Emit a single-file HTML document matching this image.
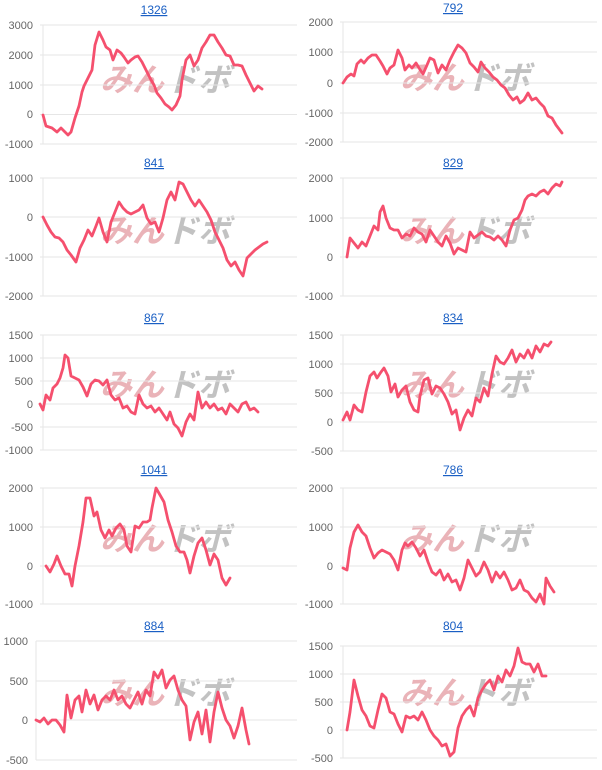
<!DOCTYPE html>
<html><head><meta charset="utf-8"><style>
html,body{margin:0;padding:0;background:#fff;}
svg{display:block;}
.t{font-family:"Liberation Sans",sans-serif;font-size:12px;fill:#1a5fc4;text-decoration:underline;text-anchor:middle;}
.l{font-family:"Liberation Sans",sans-serif;font-size:11px;fill:#666;text-anchor:end;}
.g{stroke:#e6e6e6;stroke-width:1;}
.s{fill:none;stroke:#f5506e;stroke-width:2.8;stroke-linejoin:round;stroke-linecap:round;}
.wm1{font-family:"Liberation Sans","Noto Sans CJK JP",sans-serif;font-weight:bold;font-style:italic;font-size:32px;fill:#eab3b8;}
.wm2{font-family:"Liberation Sans","Noto Sans CJK JP",sans-serif;font-weight:bold;font-style:italic;font-size:32px;fill:#c2c2c2;}
</style></head><body>
<svg width="602" height="770" xmlns="http://www.w3.org/2000/svg">
<g>
<text x="100" y="91" class="wm1">みん</text><text x="166" y="91" class="wm2">ドボ</text>
<text x="400" y="89" class="wm1">みん</text><text x="466" y="89" class="wm2">ドボ</text>
<text x="100" y="242" class="wm1">みん</text><text x="166" y="242" class="wm2">ドボ</text>
<text x="400" y="242" class="wm1">みん</text><text x="466" y="242" class="wm2">ドボ</text>
<text x="100" y="396" class="wm1">みん</text><text x="166" y="396" class="wm2">ドボ</text>
<text x="400" y="396" class="wm1">みん</text><text x="466" y="396" class="wm2">ドボ</text>
<text x="100" y="550" class="wm1">みん</text><text x="166" y="550" class="wm2">ドボ</text>
<text x="400" y="550" class="wm1">みん</text><text x="466" y="550" class="wm2">ドボ</text>
<text x="100" y="704" class="wm1">みん</text><text x="166" y="704" class="wm2">ドボ</text>
<text x="400" y="704" class="wm1">みん</text><text x="466" y="704" class="wm2">ドボ</text>
</g>

<text x="154" y="14" class="t">1326</text>
<line class="g" x1="40" x2="297" y1="25" y2="25"/><line class="g" x1="40" x2="297" y1="55" y2="55"/><line class="g" x1="40" x2="297" y1="85" y2="85"/><line class="g" x1="40" x2="297" y1="114.5" y2="114.5"/><line class="g" x1="40" x2="297" y1="144" y2="144"/>
<line class="g" x1="43" x2="43" y1="25" y2="144"/>
<text x="33" y="29" class="l">3000</text><text x="33" y="59" class="l">2000</text><text x="33" y="89" class="l">1000</text><text x="33" y="118" class="l">0</text><text x="33" y="148" class="l">-1000</text>
<polyline class="s" points="43,115 46,126 52,128 57,132 61,128 65,132 68,135 71,132 75,118 79,106 82,92 84,86 88,78 92,70 95,45 99,32 103,40 106,47 110,50 113,60 117,50 121,53 124,57 128,63 131,60 135,57 138,56 142,62 146,70 150,78 154,85 157,93 161,98 165,104 169,107 172,110 176,105 180,96 182,80 186,60 190,55 194,66 198,60 202,48 206,42 210,35 214,35 218,42 222,48 226,55 230,56 234,65 238,65 242,66 246,75 250,83 254,91 258,86 262,89"/>

<text x="453" y="12" class="t">792</text>
<line class="g" x1="340" x2="597" y1="22" y2="22"/><line class="g" x1="340" x2="597" y1="52" y2="52"/><line class="g" x1="340" x2="597" y1="83" y2="83"/><line class="g" x1="340" x2="597" y1="113" y2="113"/><line class="g" x1="340" x2="597" y1="142" y2="142"/>
<line class="g" x1="343" x2="343" y1="22" y2="142"/>
<text x="333" y="26" class="l">2000</text><text x="333" y="56" class="l">1000</text><text x="333" y="87" class="l">0</text><text x="333" y="117" class="l">-1000</text><text x="333" y="146" class="l">-2000</text>
<polyline class="s" points="343,83 347,77 351,74 354,76 357,64 361,60 364,63 368,58 372,55 376,55 380,61 383,66 387,74 390,68 394,65 398,50 402,58 405,70 409,65 412,68 416,63 419,68 423,74 427,65 430,58 434,60 438,73 442,65 446,70 450,60 454,52 458,45 462,48 466,53 470,63 474,67 478,72 481,62 485,68 489,72 493,77 497,80 501,85 505,88 509,95 513,100 517,97 520,103 524,100 528,93 532,100 536,98 540,103 544,107 548,116 552,118 556,125 562,133"/>

<text x="154" y="167" class="t">841</text>
<line class="g" x1="40" x2="297" y1="178" y2="178"/><line class="g" x1="40" x2="297" y1="217" y2="217"/><line class="g" x1="40" x2="297" y1="257" y2="257"/><line class="g" x1="40" x2="297" y1="296" y2="296"/>
<line class="g" x1="43" x2="43" y1="178" y2="296"/>
<text x="33" y="182" class="l">1000</text><text x="33" y="221" class="l">0</text><text x="33" y="261" class="l">-1000</text><text x="33" y="300" class="l">-2000</text>
<polyline class="s" points="43,217 47,225 51,232 55,237 59,238 63,242 67,250 71,255 76,262 80,248 84,240 88,230 92,236 96,226 99,218 103,232 107,242 111,222 115,212 119,202 123,208 127,212 131,214 135,212 139,210 143,205 147,218 151,224 155,222 159,232 163,218 167,200 171,192 175,200 179,182 183,184 187,192 191,200 195,206 199,200 203,206 207,212 211,220 215,232 219,240 223,248 227,260 231,266 235,262 239,270 243,276 247,258 251,254 255,250 259,247 263,244 267,242"/>

<text x="453" y="167" class="t">829</text>
<line class="g" x1="340" x2="597" y1="178" y2="178"/><line class="g" x1="340" x2="597" y1="218" y2="218"/><line class="g" x1="340" x2="597" y1="257" y2="257"/><line class="g" x1="340" x2="597" y1="296" y2="296"/>
<line class="g" x1="343" x2="343" y1="178" y2="296"/>
<text x="333" y="182" class="l">2000</text><text x="333" y="222" class="l">1000</text><text x="333" y="261" class="l">0</text><text x="333" y="300" class="l">-1000</text>
<polyline class="s" points="347,257 350,238 354,243 358,248 362,242 366,246 370,236 374,226 378,230 380,212 383,206 386,218 390,228 394,230 398,230 402,238 406,234 410,236 414,228 418,232 422,234 426,242 430,230 434,236 438,242 442,246 446,236 450,243 454,254 458,248 462,250 466,252 470,232 474,238 478,235 482,232 486,236 490,237 494,240 498,236 502,240 506,246 510,230 514,220 518,218 522,210 525,200 528,196 532,194 536,196 540,192 544,190 548,194 552,188 556,184 560,186 562,182"/>

<text x="154" y="322" class="t">867</text>
<line class="g" x1="40" x2="297" y1="335" y2="335"/><line class="g" x1="40" x2="297" y1="358" y2="358"/><line class="g" x1="40" x2="297" y1="381" y2="381"/><line class="g" x1="40" x2="297" y1="404" y2="404"/><line class="g" x1="40" x2="297" y1="427" y2="427"/><line class="g" x1="40" x2="297" y1="450" y2="450"/>
<line class="g" x1="43" x2="43" y1="335" y2="450"/>
<text x="33" y="339" class="l">1500</text><text x="33" y="362" class="l">1000</text><text x="33" y="385" class="l">500</text><text x="33" y="408" class="l">0</text><text x="33" y="431" class="l">-500</text><text x="33" y="454" class="l">-1000</text>
<polyline class="s" points="40,404 43,410 46,395 50,400 53,388 57,384 60,378 63,368 65,355 68,358 71,376 75,378 79,380 83,387 87,396 91,384 95,380 99,381 103,385 107,380 111,395 115,400 119,398 123,408 127,406 131,412 135,414 139,395 143,404 147,408 151,406 155,412 159,408 163,414 167,420 170,412 174,424 178,428 182,436 186,422 190,414 194,420 198,392 202,408 206,402 210,408 214,404 218,410 222,408 226,414 230,404 234,408 238,412 242,404 246,402 250,410 254,408 258,412"/>

<text x="453" y="322" class="t">834</text>
<line class="g" x1="340" x2="597" y1="335" y2="335"/><line class="g" x1="340" x2="597" y1="364" y2="364"/><line class="g" x1="340" x2="597" y1="393" y2="393"/><line class="g" x1="340" x2="597" y1="422" y2="422"/><line class="g" x1="340" x2="597" y1="451" y2="451"/>
<line class="g" x1="343" x2="343" y1="335" y2="451"/>
<text x="333" y="339" class="l">1500</text><text x="333" y="368" class="l">1000</text><text x="333" y="397" class="l">500</text><text x="333" y="426" class="l">0</text><text x="333" y="455" class="l">-500</text>
<polyline class="s" points="343,420 347,412 350,420 354,405 358,410 362,412 366,392 370,376 374,372 377,378 381,372 384,368 388,376 391,392 395,384 398,397 402,390 406,386 410,402 414,410 418,412 420,396 424,380 428,378 432,394 436,386 440,388 444,394 448,402 452,414 456,410 460,430 464,418 468,410 472,416 476,398 480,402 484,388 488,396 492,374 496,356 500,362 504,364 508,358 512,350 516,362 520,354 524,358 528,350 532,358 536,346 540,352 544,344 548,346 551,342"/>

<text x="154" y="474" class="t">1041</text>
<line class="g" x1="40" x2="297" y1="488" y2="488"/><line class="g" x1="40" x2="297" y1="527" y2="527"/><line class="g" x1="40" x2="297" y1="566" y2="566"/><line class="g" x1="40" x2="297" y1="604" y2="604"/>
<line class="g" x1="43" x2="43" y1="488" y2="604"/>
<text x="33" y="492" class="l">2000</text><text x="33" y="531" class="l">1000</text><text x="33" y="570" class="l">0</text><text x="33" y="608" class="l">-1000</text>
<polyline class="s" points="46,566 50,572 54,564 57,556 61,566 65,574 69,574 72,586 75,566 79,546 83,522 86,498 90,498 94,516 97,512 101,530 105,538 109,530 112,536 116,528 120,524 124,530 127,546 131,552 135,526 139,528 143,522 147,522 150,520 152,508 156,488 160,495 164,502 168,520 172,532 176,546 180,552 184,552 187,560 190,573 194,556 198,543 202,538 206,550 210,565 214,554 218,560 222,578 226,585 230,578"/>

<text x="453" y="474" class="t">786</text>
<line class="g" x1="340" x2="597" y1="488" y2="488"/><line class="g" x1="340" x2="597" y1="527" y2="527"/><line class="g" x1="340" x2="597" y1="566" y2="566"/><line class="g" x1="340" x2="597" y1="604" y2="604"/>
<line class="g" x1="343" x2="343" y1="488" y2="604"/>
<text x="333" y="492" class="l">2000</text><text x="333" y="531" class="l">1000</text><text x="333" y="570" class="l">0</text><text x="333" y="608" class="l">-1000</text>
<polyline class="s" points="343,568 347,570 350,548 354,532 358,525 362,532 366,536 370,548 374,558 378,553 382,550 386,552 390,554 394,560 398,570 402,550 405,543 408,546 412,542 416,548 420,556 424,550 428,562 432,572 436,575 440,570 444,580 448,574 452,582 456,580 460,590 464,578 468,560 472,568 476,576 480,572 484,562 488,570 492,582 496,572 500,578 504,572 508,580 512,590 516,588 520,580 524,590 528,592 532,598 536,602 540,594 544,604 546,578 550,586 554,592"/>

<text x="154" y="630" class="t">884</text>
<line class="g" x1="36" x2="297" y1="641" y2="641"/><line class="g" x1="36" x2="297" y1="681" y2="681"/><line class="g" x1="36" x2="297" y1="720" y2="720"/><line class="g" x1="36" x2="297" y1="760" y2="760"/>
<line class="g" x1="36" x2="36" y1="641" y2="760"/>
<text x="28" y="645" class="l">1000</text><text x="28" y="685" class="l">500</text><text x="28" y="724" class="l">0</text><text x="28" y="764" class="l">-500</text>
<polyline class="s" points="36,720 40,722 44,718 48,724 52,720 56,720 60,725 64,732 67,695 71,718 75,700 79,696 82,712 86,690 90,704 94,695 98,710 102,700 106,696 110,700 114,690 118,700 122,696 126,704 130,708 134,700 138,692 142,704 146,690 150,696 154,672 158,678 162,670 166,688 170,680 174,676 178,690 182,700 186,706 190,740 194,722 198,712 202,734 206,710 210,742 214,712 218,692 222,708 226,720 230,726 234,738 238,726 242,708 246,730 249,744"/>

<text x="453" y="630" class="t">804</text>
<line class="g" x1="340" x2="597" y1="646" y2="646"/><line class="g" x1="340" x2="597" y1="674" y2="674"/><line class="g" x1="340" x2="597" y1="702" y2="702"/><line class="g" x1="340" x2="597" y1="730" y2="730"/><line class="g" x1="340" x2="597" y1="758" y2="758"/>
<line class="g" x1="343" x2="343" y1="646" y2="758"/>
<text x="333" y="650" class="l">1500</text><text x="333" y="678" class="l">1000</text><text x="333" y="706" class="l">500</text><text x="333" y="734" class="l">0</text><text x="333" y="762" class="l">-500</text>
<polyline class="s" points="347,730 350,712 354,680 358,696 362,710 366,716 370,726 374,728 378,710 382,694 386,698 390,712 394,714 398,724 402,732 406,716 410,718 414,716 418,720 422,712 426,720 430,730 434,736 438,740 442,746 446,744 450,756 454,752 458,728 462,716 466,710 470,706 474,716 478,698 482,690 486,684 490,680 494,690 498,676 502,682 506,670 510,676 514,666 518,648 522,662 526,664 530,664 534,672 538,664 542,676 546,676"/>
</svg>
</body></html>
